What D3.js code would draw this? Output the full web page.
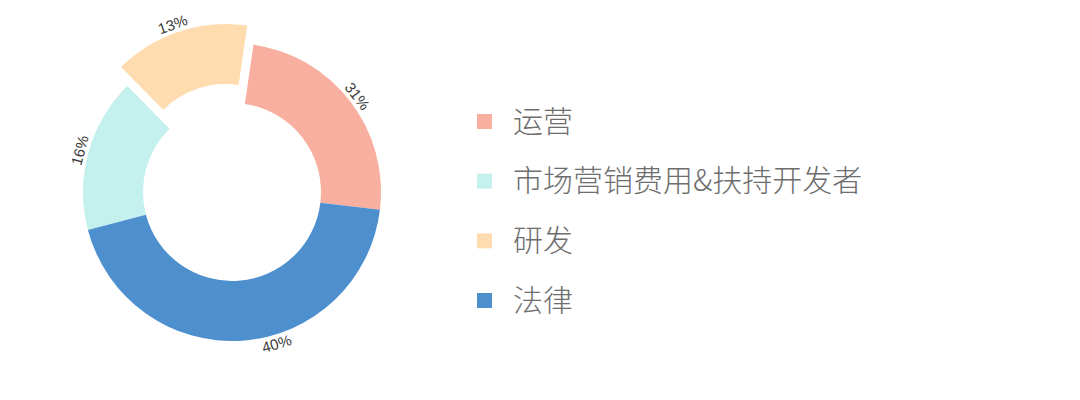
<!DOCTYPE html>
<html>
<head>
<meta charset="utf-8">
<script src="https://cdn.jsdelivr.net/npm/d3@7/dist/d3.min.js"></script>
<style>
  html, body { margin: 0; padding: 0; background: #fff; }
  svg { display: block; }
</style>
</head>
<body>
<svg id="chart" width="1080" height="400"></svg>
<script>
// ---- data (legend order) ----
const categories = ["运营", "市场营销费用&扶持开发者", "研发", "法律"];
const shares     = [24.6, 16.7, 14.7, 44.0];          // slice sizes as drawn
const labelTexts = ["31%", "16%", "13%", "40%"];      // printed labels
const colors     = ["#F8AFA0", "#C4F0EE", "#FFDCB0", "#4E8FCE"];
const drawOrder  = ["运营", "法律", "市场营销费用&扶持开发者", "研发"];
const exploded   = ["研发"];

// ---- layout ----
const cx = 232, cy = 192, rOuter = 149, rInner = 89;
const startDeg = 8.3, explodeOffset = 20, labelR = 158;
const labelNudgeDeg = { "法律": -12.5, "研发": -1.5 };
const rad = Math.PI / 180;

const data = categories.map((c, i) => ({
  name: c, value: shares[i], label: labelTexts[i], color: colors[i]
}));

const svg = d3.select("#chart");
const g = svg.append("g").attr("transform", `translate(${cx},${cy})`);

const pie = d3.pie()
  .value(d => d.value)
  .sort((a, b) => drawOrder.indexOf(a.name) - drawOrder.indexOf(b.name))
  .startAngle(startDeg * rad)
  .endAngle(startDeg * rad + 2 * Math.PI);

const arc = d3.arc().innerRadius(rInner).outerRadius(rOuter);
const arcs = pie(data);

function offsetOf(d) {
  if (!exploded.includes(d.data.name)) return [0, 0];
  const m = (d.startAngle + d.endAngle) / 2;
  return [Math.sin(m) * explodeOffset, -Math.cos(m) * explodeOffset];
}

g.selectAll("path.slice")
  .data(arcs)
  .join("path")
  .attr("class", "slice")
  .attr("d", arc)
  .attr("fill", d => d.data.color)
  .attr("transform", d => { const o = offsetOf(d); return `translate(${o[0]},${o[1]})`; });

g.selectAll("text.lbl")
  .data(arcs)
  .join("text")
  .attr("class", "lbl")
  .attr("transform", d => {
    const o = offsetOf(d);
    let deg = ((d.startAngle + d.endAngle) / 2) / rad + (labelNudgeDeg[d.data.name] || 0);
    const a = deg * rad;
    const x = Math.sin(a) * labelR + o[0];
    const y = -Math.cos(a) * labelR + o[1];
    let rot = deg;
    if (deg > 90 && deg < 270) rot = deg - 180;
    else if (deg >= 270) rot = deg - 360;
    return `translate(${x},${y}) rotate(${rot})`;
  })
  .attr("text-anchor", "middle")
  .attr("dominant-baseline", "central")
  .attr("font-family", "'Liberation Sans', Arial, Helvetica, sans-serif")
  .attr("font-size", 15)
  .attr("fill", "#3a3a3a")
  .text(d => d.data.label);

// ---- legend ----
const legendY = d3.scalePoint().domain(categories).range([121.5, 300.5]);
const lg = svg.append("g");
const rows = lg.selectAll("g.row").data(data).join("g").attr("class", "row");
rows.append("rect")
  .attr("x", 477)
  .attr("y", d => legendY(d.name) - 7.5)
  .attr("width", 15).attr("height", 15)
  .attr("fill", d => d.color);
rows.append("text")
  .attr("x", 513)
  .attr("y", d => legendY(d.name) - 3)
  .attr("dominant-baseline", "central")
  .attr("font-family", "'Noto Sans CJK SC', 'Noto Sans', sans-serif")
  .attr("font-size", 30)
  .attr("font-weight", 300)
  .attr("fill", "#6e6e6e")
  .text(d => d.name);
</script>
</body>
</html>
